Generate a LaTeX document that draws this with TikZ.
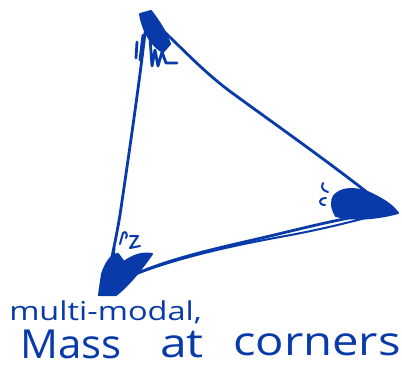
\documentclass[tikz,border=0pt]{standalone}
\usepackage{fontspec}
\setmainfont{Open Sans}
\usepackage{xcolor}
\definecolor{inkblue}{RGB}{8,58,170}
\tikzset{
  ink/.style={draw=inkblue,line width=2.8pt,line cap=round,line join=round},
  blob/.style={fill=inkblue,draw=inkblue,line width=2pt,line join=round},
  hand/.style={text=inkblue,inner sep=0pt,anchor=base west}
}
\begin{document}
\begin{tikzpicture}[x=1pt,y=-1pt]
\useasboundingbox (0,0) rectangle (402,368);
% corners
\coordinate (top) at (147,16);
\coordinate (right) at (392,212);
\coordinate (left) at (104,290);
% edges
\draw[ink] (top) .. controls (175,40) and (200,70) .. (235,95)
  .. controls (290,135) and (340,170) .. (right);
\draw[ink] (top) .. controls (140,80) and (128,160) .. (120,215)
  .. controls (114,250) and (108,275) .. (left);
\draw[ink] (left) .. controls (150,262) and (210,250) .. (270,236)
  .. controls (320,224) and (360,214) .. (right);
\draw[ink,line width=2pt] (112,284) .. controls (160,262) and (220,248) .. (280,237)
  .. controls (330,228) and (365,218) .. (385,213);
% mass at top corner
\fill[blob] (140,14) -- (151,11) .. controls (158,20) and (166,32) .. (170,44)
  -- (163,52) .. controls (152,46) and (143,32) .. cycle;
\draw[ink] (150,38) -- (152,66) -- (155,50) -- (158,66) -- (162,52) -- (166,63) -- (177,63);
\draw[ink] (143,35) -- (140,60);
\draw[ink] (137,42) -- (136,58);
% mass at right corner
\fill[blob] (334,196) .. controls (342,186) and (360,188) .. (372,194)
  .. controls (384,200) and (392,205) .. (398,213)
  .. controls (380,218) and (355,221) .. (336,216)
  .. controls (331,208) and (331,200) .. cycle;
\draw[ink,line width=2pt] (323,183) .. controls (320,188) and (324,191) .. (328,192);
\draw[ink,line width=2pt] (326,198) .. controls (318,198) and (318,205) .. (325,205);
% mass at bottom-left corner
\fill[blob] (99,295) -- (102,274) .. controls (106,262) and (112,254) .. (118,254)
  -- (124,262) .. controls (132,256) and (142,252) .. (152,254)
  .. controls (142,268) and (130,284) .. (116,295) -- cycle;
\draw[ink] (112,275) -- (114,248);
\draw[ink,line width=2pt] (120,244) -- (123,233) .. controls (126,230) and (128,235) .. (126,238);
\draw[ink,line width=2pt] (130,236) -- (138,236) -- (130,248) -- (140,246);
% labels
\node[hand,font=\fontsize{26}{26}\selectfont,xscale=1.25] (lblmulti) at (9,320) {multi-modal,};
\node[hand,font=\fontsize{40}{40}\selectfont,xscale=1.05] (lblmass) at (20,358) {Mass};
\node[hand,font=\fontsize{40}{40}\selectfont,xscale=1.2] (lblat) at (160,357) {at};
\node[hand,font=\fontsize{40}{40}\selectfont,xscale=1.18] (lblcorners) at (233,355) {corners};
\end{tikzpicture}
\end{document}
